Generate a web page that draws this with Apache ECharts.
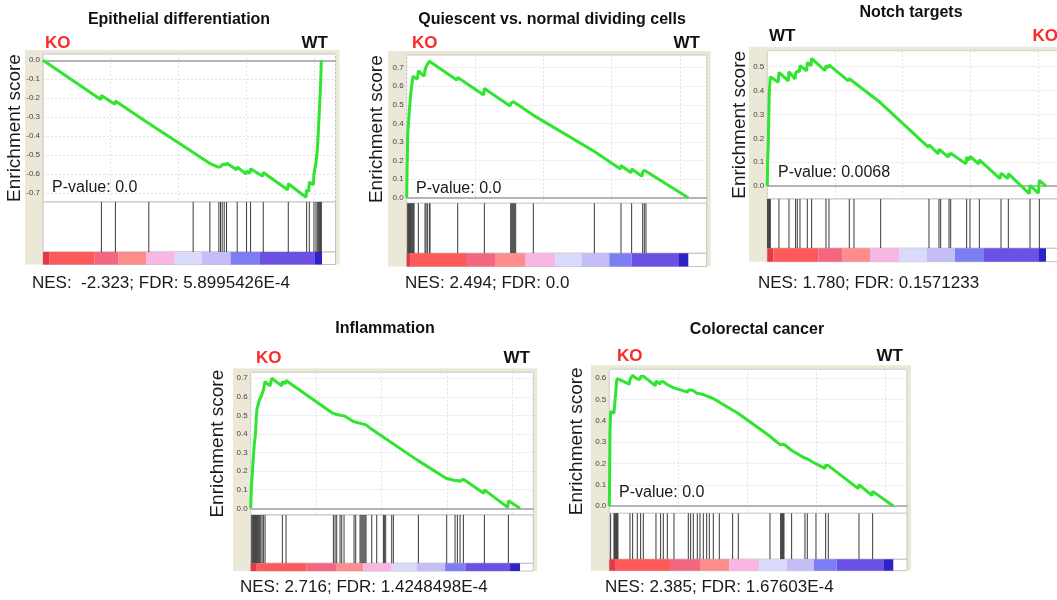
<!DOCTYPE html>
<html><head><meta charset="utf-8">
<script src="https://cdn.jsdelivr.net/npm/echarts@6/dist/echarts.min.js"></script>
<style>html,body{margin:0;padding:0;background:#fff}#c{width:1057px;height:600px}</style>
</head><body><div id="c"></div>
<script>
// ---------------- DATA ----------------
const TOTAL_RANKS = 20600;
const titles = ["Epithelial differentiation", "Quiescent vs. normal dividing cells", "Notch targets", "Inflammation", "Colorectal cancer"];
const leftGroups = ["KO", "KO", "WT", "KO", "KO"];
const rightGroups = ["WT", "WT", "KO", "WT", "WT"];
const nesLabels = ["NES:  -2.323; FDR: 5.8995426E-4", "NES: 2.494; FDR: 0.0", "NES: 1.780; FDR: 0.1571233", "NES: 2.716; FDR: 1.4248498E-4", "NES: 2.385; FDR: 1.67603E-4"];
const pValueLabels = ["P-value: 0.0", "P-value: 0.0", "P-value: 0.0068", "", "P-value: 0.0"];
const yAxisTitle = "Enrichment score";

// running enrichment score: [rank, ES]
const es1 = [[0,0],[4263,-0.207],[4312,-0.185],[5298,-0.232],[5347,-0.214],[7762,-0.330],[7811,-0.323],[11039,-0.483],[11088,-0.478],[12271,-0.541],[12320,-0.534],[12936,-0.562],[12985,-0.555],[13084,-0.562],[13108,-0.555],[13207,-0.559],[13232,-0.550],[13355,-0.555],[13380,-0.547],[13528,-0.552],[13552,-0.541],[14291,-0.576],[14340,-0.562],[14981,-0.598],[15030,-0.585],[15277,-0.594],[15326,-0.571],[16213,-0.610],[16262,-0.591],[18061,-0.682],[18110,-0.650],[19417,-0.721],[19466,-0.682],[19614,-0.692],[19663,-0.641],[19958,-0.656],[20008,-0.598],[20131,-0.605],[20155,-0.541],[20229,-0.545],[20254,-0.475],[20303,-0.478],[20328,-0.378],[20377,-0.381],[20402,-0.267],[20476,-0.271],[20500,-0.123],[20550,0.0]];
const es2 = [[0,0],[24,0.134],[73,0.339],[146,0.339],[195,0.472],[268,0.472],[317,0.576],[414,0.576],[463,0.654],[780,0.638],[853,0.683],[1268,0.654],[1341,0.686],[1414,0.704],[1463,0.695],[1512,0.718],[1609,0.713],[1658,0.734],[3657,0.633],[3730,0.647],[5632,0.553],[5681,0.588],[7558,0.494],[7607,0.508],[7802,0.517],[7972,0.508],[9216,0.446],[9264,0.451],[13702,0.250],[13750,0.255],[15628,0.155],[15676,0.173],[16408,0.134],[16456,0.155],[17212,0.116],[17261,0.137],[17334,0.134],[17383,0.148],[20600,0]];
const es3 = [[0,0],[25,0.100],[74,0.180],[99,0.260],[148,0.397],[222,0.458],[813,0.435],[862,0.476],[1552,0.441],[1602,0.479],[2045,0.448],[2094,0.472],[2168,0.466],[2218,0.483],[2366,0.478],[2415,0.504],[2907,0.483],[2957,0.518],[3228,0.504],[3277,0.535],[4263,0.483],[4337,0.504],[4509,0.496],[4558,0.508],[5988,0.441],[6061,0.450],[6357,0.437],[6406,0.444],[8328,0.351],[8378,0.354],[11901,0.163],[11950,0.173],[12640,0.135],[12690,0.155],[12764,0.152],[12813,0.163],[13380,0.121],[13429,0.138],[13503,0.128],[13552,0.138],[14686,0.093],[14735,0.121],[14932,0.110],[14981,0.124],[15622,0.093],[15671,0.110],[17199,0.031],[17273,0.054],[17766,0.031],[17815,0.052],[19367,-0.032],[19416,0.003],[20032,-0.029],[20106,0.024],[20600,0]];
const es4 = [[0,0],[51,0.117],[128,0.189],[204,0.278],[281,0.350],[357,0.395],[434,0.494],[485,0.535],[612,0.530],[663,0.583],[765,0.592],[816,0.605],[918,0.610],[969,0.637],[1046,0.632],[1097,0.682],[1479,0.659],[1607,0.700],[2372,0.659],[2423,0.682],[2652,0.670],[2703,0.688],[6273,0.512],[6324,0.512],[6579,0.505],[6962,0.500],[7140,0.498],[7854,0.467],[7905,0.470],[8823,0.449],[9257,0.425],[12776,0.258],[12827,0.262],[14943,0.162],[14994,0.166],[15632,0.150],[15810,0.150],[16014,0.146],[16269,0.156],[17825,0.081],[17876,0.099],[19660,0.005],[19711,0.041],[20600,0]];
const es5 = [[0,0],[24,0.121],[48,0.341],[97,0.445],[339,0.436],[387,0.474],[435,0.510],[484,0.545],[532,0.587],[580,0.598],[700,0.603],[1451,0.572],[1499,0.595],[1644,0.590],[1693,0.613],[1983,0.598],[2031,0.602],[2225,0.594],[2273,0.608],[2418,0.600],[2466,0.610],[3337,0.565],[3385,0.587],[3675,0.573],[3724,0.584],[3869,0.576],[3917,0.584],[4159,0.572],[4207,0.578],[4643,0.556],[4691,0.563],[5682,0.535],[5731,0.545],[5852,0.537],[5900,0.545],[6045,0.537],[6093,0.542],[6335,0.530],[6384,0.536],[6529,0.528],[6577,0.534],[6771,0.524],[6819,0.530],[7012,0.518],[7061,0.523],[7206,0.513],[7254,0.518],[7496,0.506],[7544,0.510],[7931,0.490],[7979,0.494],[8898,0.452],[8947,0.455],[9309,0.437],[9358,0.440],[11606,0.330],[11655,0.334],[12380,0.288],[12670,0.290],[13178,0.263],[13226,0.268],[14145,0.226],[14193,0.230],[14314,0.223],[14362,0.227],[14943,0.200],[14991,0.205],[15644,0.177],[15693,0.192],[15838,0.184],[15886,0.190],[18062,0.082],[18111,0.100],[19054,0.050],[19102,0.069],[20600,0]];

// gene-set hit positions (rank)
const hits1 = [4312,5347,7811,11088,12320,12985,13108,13232,13380,13552,14340,15030,15326,16262,18110,19466,19663,20008,20155,20254,20328,20402,20451,20500,20550];
const hits2 = [73,122,171,219,268,317,366,439,488,536,853,1341,1414,1512,1658,1706,3730,5681,7607,7680,7753,7826,7899,7972,9264,13726,15676,16456,17261,17383,17505];
const hits3 = [25,74,123,172,222,862,1602,2094,2218,2415,2957,3277,4337,4558,6061,6406,8378,11950,12690,12813,13429,13552,14735,14981,15671,17273,17815,19416,20106];
const hits4 = [77,153,204,255,306,357,408,459,510,587,663,765,867,969,1097,2423,2703,6324,6452,6579,6834,6962,7140,7905,8033,8364,8441,8517,8594,8670,8747,8823,9257,9639,10149,10226,10328,10787,10914,12827,14994,15632,15810,16014,16269,17876,19712];
const hits5 = [97,339,387,435,484,532,580,629,1499,1693,2031,2273,2466,3385,3724,3917,4207,4691,5731,5900,6093,6384,6577,6819,7061,7254,7544,7979,8947,9358,11655,12429,12477,12525,12574,12622,12670,13226,14193,14362,14991,15693,15886,18111,19102];

// ranked-list metric colour band: segment boundaries (rank)
const band1 = [0,493,3819,5544,7638,9733,11704,13848,16016,20082,20600];
const band2 = [0,293,4340,6461,8655,10849,12800,14823,16457,19870,20600];
const band3 = [0,444,3770,5569,7589,9733,11778,13872,16016,20032,20600];
const band4 = [0,459,4284,6579,8619,10787,12699,14867,16448,19839,20600];
const band5 = [0,411,4401,6577,8705,10857,12864,14847,16491,19876,20600];

// ---------------- STYLE / LAYOUT ----------------
const bandColors = ['#e03a46','#ff5a5a','#f36880','#ff8c8c','#f7b7e2','#dadafa','#c4bdf7','#7d7df4','#6a51e4','#2c22c6'];
const FONT = "'Liberation Sans', Arial, sans-serif";
const layouts = [
 {left:43, right:335.5, top:54, esBottom:202, hitBottom:252, barBottom:264.5, xMax:21597, yMin:-0.746, yMax:0.033, beigeLeft:25, titleX:179, titleY:20, groupY:43, gL:45, gR:328, nesX:32, nesY:283, pX:52, pY:188, labX:15},
 {left:406.7, right:706.7, top:55, esBottom:203.3, hitBottom:253.3, barBottom:266.5, xMax:21946, yMin:-0.030, yMax:0.768, beigeLeft:388, titleX:552, titleY:20, groupY:43, gL:412, gR:700, nesX:405, nesY:283, pX:416, pY:189, labX:377},
 {left:767.3, right:1070, top:50.7, esBottom:199, hitBottom:248.3, barBottom:261.7, xMax:22372, yMin:-0.054, yMax:0.567, beigeLeft:749, titleX:911, titleY:13, groupY:36, gL:769, gR:1058, nesX:758, nesY:283, pX:778, pY:173, labX:740},
 {left:250.7, right:533.3, top:372.3, esBottom:515, hitBottom:563.3, barBottom:571, xMax:21617, yMin:-0.036, yMax:0.732, beigeLeft:233, titleX:385, titleY:329, groupY:358, gL:256, gR:530, nesX:240, nesY:587, pX:0, pY:0, labX:218},
 {left:609.3, right:907, top:369.3, esBottom:513.3, hitBottom:559.3, barBottom:570.7, xMax:21594, yMin:-0.034, yMax:0.642, beigeLeft:591, titleX:757, titleY:330, groupY:356, gL:617, gR:903, nesX:605, nesY:587, pX:619, pY:493, labX:577}
];
const esList = [es1, es2, es3, es4, es5];
const hitList = [hits1, hits2, hits3, hits4, hits5];
const bandList = [band1, band2, band3, band4, band5];

const grids = [], xAxes = [], yAxes = [], series = [], graphics = [];
function txt(text, x, y, font, fill, align, rot) {
  return {type:'text', z:100, x:x, y:y, rotation: rot || 0, silent:true,
    style:{text:text, x:0, y:0, font:font, fill:fill, align:align, textAlign:align, verticalAlign:'middle', textVerticalAlign:'middle'}};
}
const tickFmt = v => { const r = Math.round(v * 10); return Math.abs(v * 10 - r) < 1e-6 ? (r / 10).toFixed(1) : ''; };

layouts.forEach((L, i) => {
  const w = L.right - L.left;
  graphics.push({type:'rect', z:-5, silent:true, shape:{x:L.beigeLeft, y:L.top - 4, width:L.right + 4 - L.beigeLeft, height:L.barBottom - L.top + 4}, style:{fill:'#ece8d8'}});
  const gi = grids.length;
  const gstyle = {show:true, backgroundColor:'#fff', borderColor:'#c2c2c2', borderWidth:1, containLabel:false, outerBoundsMode:'none'};
  grids.push(Object.assign({left:L.left, top:L.top, width:w, height:L.esBottom - L.top}, gstyle));
  grids.push(Object.assign({left:L.left, top:L.esBottom, width:w, height:L.hitBottom - L.esBottom}, gstyle));
  grids.push(Object.assign({left:L.left, top:L.hitBottom, width:w, height:L.barBottom - L.hitBottom}, gstyle));
  xAxes.push({gridIndex:gi, type:'value', min:0, max:L.xMax, splitNumber:4,
    axisLine:{show:true, onZero:true, lineStyle:{color:'#9e9e9e', width:1.5}}, axisTick:{show:false}, axisLabel:{show:false},
    splitLine:{show:true, lineStyle:{color:'#e2e2e2', type:[2,2], width:1}}});
  yAxes.push({gridIndex:gi, type:'value', min:L.yMin, max:L.yMax, splitNumber:Math.round((L.yMax - L.yMin) / 0.1),
    axisLine:{show:false}, axisTick:{show:false},
    axisLabel:{fontSize:8, color:'#444', margin:3, fontFamily:FONT, formatter:tickFmt},
    splitLine:{show:true, lineStyle:{color:'#e2e2e2', type:[2,2], width:1}}});
  for (let k = 1; k <= 2; k++) {
    xAxes.push({gridIndex:gi + k, type:'value', min:0, max:L.xMax, show:false});
    yAxes.push({gridIndex:gi + k, type:'value', min:0, max:1, show:false});
  }
  series.push({type:'line', xAxisIndex:gi, yAxisIndex:gi, data:esList[i], showSymbol:false, silent:true, animation:false,
    lineStyle:{color:'#2fe52f', width:3}, itemStyle:{color:'#2fe52f'}, z:5});
  series.push({type:'custom', xAxisIndex:gi + 1, yAxisIndex:gi + 1, silent:true, animation:false,
    data:hitList[i].map(h => [h, 1]),
    renderItem:(params, api) => {
      const a = api.coord([api.value(0), 0]), b = api.coord([api.value(0), 1]);
      return {type:'line', shape:{x1:a[0], y1:a[1], x2:a[0], y2:b[1]}, style:{stroke:'#3a3a3a', lineWidth:1}};
    }});
  const band = bandList[i];
  const segs = [];
  for (let s = 0; s < band.length - 1; s++) segs.push([band[s], band[s + 1], s]);
  series.push({type:'custom', xAxisIndex:gi + 2, yAxisIndex:gi + 2, silent:true, animation:false,
    encode:{x:[0, 1]}, data:segs,
    renderItem:(params, api) => {
      const a = api.coord([api.value(0), 1]), b = api.coord([api.value(1), 0]);
      return {type:'rect', shape:{x:a[0], y:a[1], width:b[0] - a[0], height:b[1] - a[1]}, style:{fill:bandColors[api.value(2)]}};
    }});
  graphics.push(txt(titles[i], L.titleX, L.titleY, 'bold 16px ' + FONT, '#111', 'center'));
  graphics.push(txt(leftGroups[i], L.gL, L.groupY, 'bold 17px ' + FONT, leftGroups[i] === 'KO' ? '#fb2b2b' : '#111', 'left'));
  graphics.push(txt(rightGroups[i], L.gR, L.groupY, 'bold 17px ' + FONT, rightGroups[i] === 'KO' ? '#fb2b2b' : '#111', 'right'));
  graphics.push(txt(nesLabels[i], L.nesX, L.nesY, '17px ' + FONT, '#1a1a1a', 'left'));
  if (pValueLabels[i]) graphics.push(txt(pValueLabels[i], L.pX, L.pY, '16px ' + FONT, '#1a1a1a', 'left'));
  graphics.push(txt(yAxisTitle, L.labX, (L.top + L.esBottom) / 2, '19px ' + FONT, '#1a1a1a', 'center', Math.PI / 2));
});

const chart = echarts.init(document.getElementById('c'), null, {renderer:'canvas'});
chart.setOption({animation:false, backgroundColor:'#fff', grid:grids, xAxis:xAxes, yAxis:yAxes, series:series, graphic:graphics});
</script></body></html>
